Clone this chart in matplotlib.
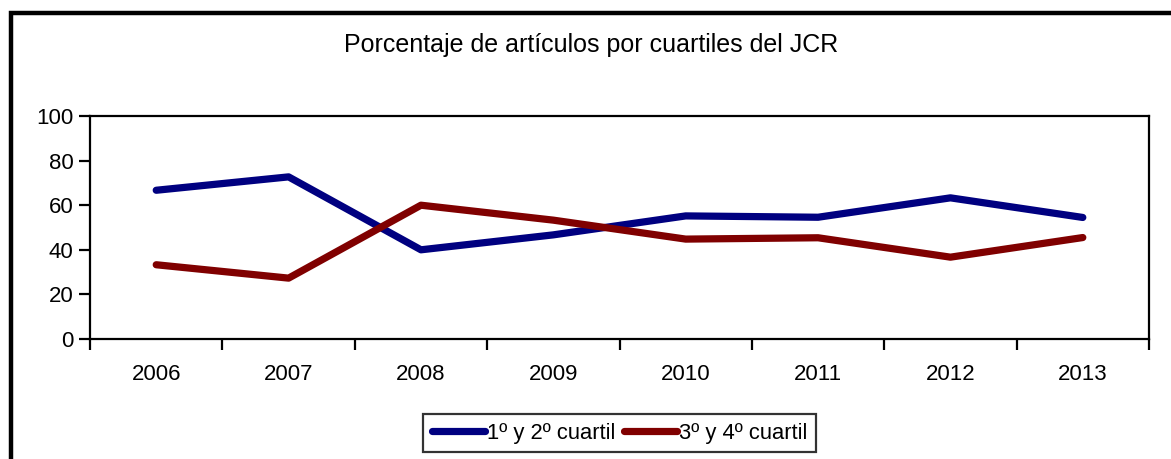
import numpy as np
import matplotlib.pyplot as plt
from matplotlib.patches import Rectangle

plt.rcParams['font.family'] = ['Liberation Sans', 'DejaVu Sans']

# datos
anios = ['2006', '2007', '2008', '2009', '2010', '2011', '2012', '2013']
q12 = [66.7, 72.7, 40.0, 46.7, 55.2, 54.6, 63.3, 54.5]
q34 = [33.3, 27.3, 60.0, 53.3, 44.8, 45.4, 36.7, 45.5]

fig = plt.figure(figsize=(11.71, 4.59), dpi=100)
ax = fig.add_axes([0.0769, 0.2614, 0.9043, 0.4859])

x = np.arange(len(anios))
ax.plot(x, q12, color='#000080', lw=5.2, solid_capstyle='round', label='1º y 2º cuartil')
ax.plot(x, q34, color='#800000', lw=5.2, solid_capstyle='round', label='3º y 4º cuartil')

ax.set_xlim(-0.5, len(anios) - 0.5)
ax.set_ylim(0, 100)
ax.set_yticks(range(0, 101, 20))

# ticks del eje x entre categorias
ax.set_xticks(np.arange(-0.5, len(anios), 1))
ax.set_xticklabels([])
ax.set_xticks(x, minor=True)
ax.set_xticklabels(anios, minor=True)
ax.tick_params(axis='x', which='major', length=8, width=1.6, direction='out')
ax.tick_params(axis='x', which='minor', length=0, pad=18, labelsize=16)
ax.tick_params(axis='y', length=8, width=1.6, direction='out', labelsize=16, pad=4)

for s in ax.spines.values():
    s.set_linewidth(1.6)

fig.text(0.505, 0.902, 'Porcentaje de artículos por cuartiles del JCR', ha='center', va='center',
         fontsize=18)

leg = fig.legend(loc='center', bbox_to_anchor=(0.529, 0.0566), ncol=2, fontsize=15.8,
                 frameon=True, fancybox=False, edgecolor='black', handlelength=2.4,
                 handletextpad=0.1, columnspacing=0.4, borderpad=0.4, borderaxespad=0)
leg.get_frame().set_linewidth(1.6)
for h in leg.get_lines():
    h.set_solid_capstyle('round')

# borde exterior del grafico
fig.patches.append(Rectangle((11 / 1171, -0.1), 1.2, 1.1 - 13.5 / 459, transform=fig.transFigure,
                             fill=False, edgecolor='black', linewidth=3.2))

fig.savefig('out.png', dpi=100)
